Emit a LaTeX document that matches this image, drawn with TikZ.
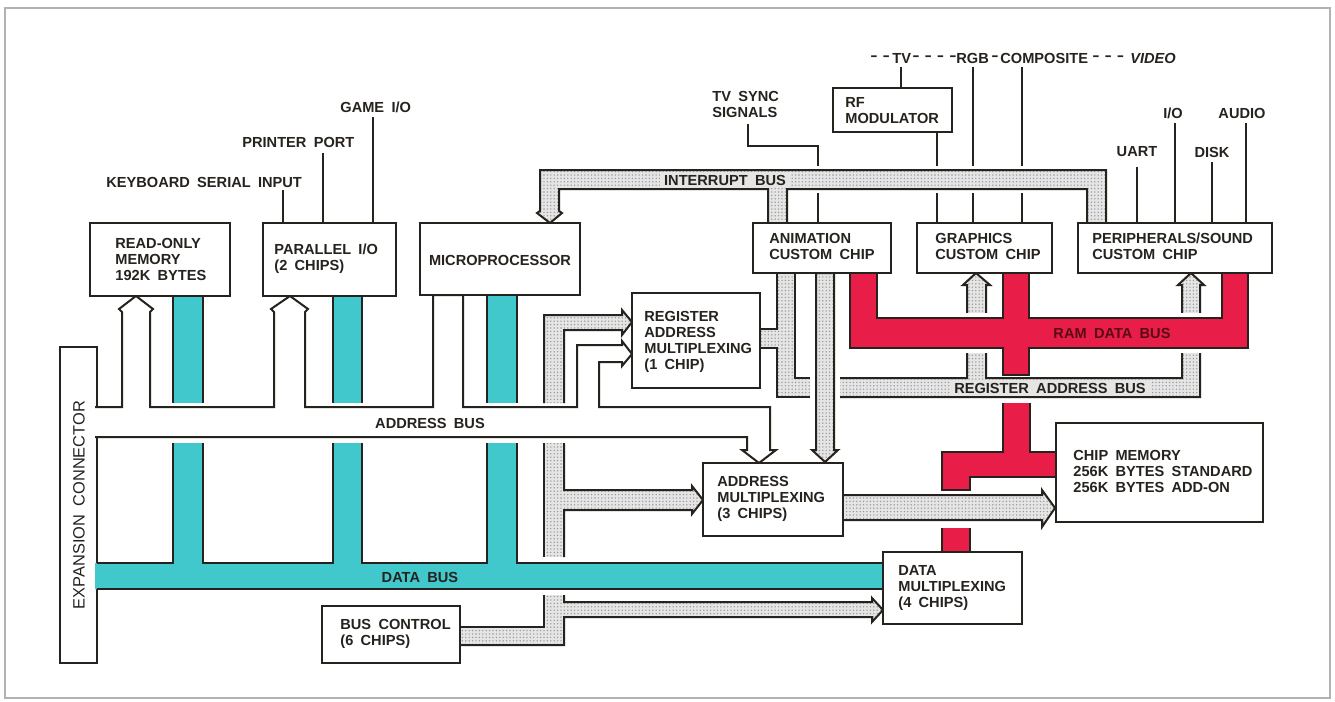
\documentclass[tikz,border=0pt]{standalone}
\usepackage{fontspec}
\setmainfont{Liberation Sans}[WordSpace=1.8]
\usetikzlibrary{patterns.meta}
\definecolor{cyanbus}{RGB}{64,200,204}
\definecolor{redbus}{RGB}{232,30,72}
\definecolor{ink}{RGB}{38,34,30}
\definecolor{maroon}{RGB}{90,10,20}
\tikzdeclarepattern{
  name=fdots,
  type=uncolored,
  bottom left={(-0.4pt,-0.4pt)},
  top right={(1.4pt,1.4pt)},
  tile size={(1.7pt,1.7pt)},
  code={\fill (0pt,0pt) circle[radius=0.38pt];}
}
\tikzset{
  ol/.style={draw=ink, line width=1pt, line join=miter},
  sig/.style={draw=ink, line width=1pt},
  box/.style={draw=ink, fill=white, line width=1.1pt, inner sep=0pt, outer sep=0pt},
  txt/.style={text=ink, font=\fontsize{7.3}{8}\selectfont\bfseries, inner sep=0pt, align=left},
  gfill/.style={preaction={fill=gray!20}, pattern=fdots, pattern color=gray!80},
  glabel/.style={txt, fill=gray!20, inner xsep=2pt, text height=5.3pt, text depth=0pt, inner ysep=1.2pt},
}
\newcommand\pbox[5]{\node[box, minimum width={(#4-#2)*0.5pt}, minimum height={(#5-#3)*0.5pt}] (#1) at ({(#2+#4)/2},{(#3+#5)/2}) {};}
\newcommand\onedash{\scalebox{1.5}[1]{-}}
\newcommand\dsh{\onedash\hspace{2.5pt}}
\begin{document}
\begin{tikzpicture}[x=0.5pt,y=-0.5pt]
\useasboundingbox (0,0) rectangle (1335,702);
\fill[white] (0,0) rectangle (1335,702);
\draw[gray!60, line width=0.7pt] (5,8) rectangle (1330,698);

% ---------- signal lines ----------
\draw[sig] (283,190)--(283,223);
\draw[sig] (323,153)--(323,223);
\draw[sig] (373,117)--(373,223);
\draw[sig] (748,124)--(748,146)--(818,146)--(818,166);
\draw[sig] (818,193)--(818,223);
\draw[sig] (901,67)--(901,88);
\draw[sig] (937,132)--(937,166);
\draw[sig] (937,193)--(937,223);
\draw[sig] (973,67)--(973,166);
\draw[sig] (973,193)--(973,223);
\draw[sig] (1022,67)--(1022,166);
\draw[sig] (1022,193)--(1022,223);
\draw[sig] (1137,167)--(1137,223);
\draw[sig] (1175,123)--(1175,223);
\draw[sig] (1212,162)--(1212,223);
\draw[sig] (1246,123)--(1246,223);

% ---------- expansion connector (under buses) ----------
\pbox{exp}{60}{347}{97}{663}

% ---------- interrupt bus ----------
\path[gfill, ol] (550,223)--(537,213)--(540,211)--(540,170)--(1106,170)--(1106,223)--(1087,223)--(1087,189)--(787,189)--(787,223)--(768,223)--(768,189)--(559,189)--(559,211)--(562,213)--cycle;

% ---------- register address bus ----------
\path[gfill, ol] (810,378)--(795,378)--(795,273)--(777,273)--(777,329)--(760,329)--(760,348)--(777,348)--(777,397)--(810,397);
\path[gfill, ol] (840,378)--(967,378)--(967,285)--(963,285)--(976,273)--(990,285)--(986,285)--(986,378)--(1182,378)--(1182,285)--(1178,285)--(1191,273)--(1204,285)--(1200,285)--(1200,397)--(840,397);
\fill[white] (961,313) rectangle (992,353);
\fill[white] (1176,313) rectangle (1206,353);
% animation -> address multiplexing
\path[gfill, ol] (816,273)--(816,450)--(812,450)--(825,462)--(838,450)--(834,450)--(834,273)--cycle;

% ---------- RAM data bus ----------
\path[fill=redbus, ol] (877,273)--(877,318)--(1003,318)--(1003,273)--(1029,273)--(1029,318)--(1222,318)--(1222,273)--(1248,273)--(1248,348)--(1029,348)--(1029,375)--(1003,375)--(1003,348)--(850,348)--(850,273);
\path[fill=redbus, ol] (1003,403)--(1003,452)--(942,452)--(942,490)--(970,490)--(970,477)--(1056,477)--(1056,452)--(1030,452)--(1030,403);
\fill[redbus] (942,528) rectangle (970,552);
\draw[ol] (942,528)--(942,552) (970,528)--(970,552);

% ---------- bus control network ----------
\path[gfill, ol] (544,403)--(544,315)--(622,315)--(622,310)--(632,322)--(622,335)--(622,330)--(564,330)--(564,403);
\path[gfill] (544,443) rectangle (564,557);
\draw[ol] (544,443)--(544,557);
\path[gfill, ol] (564,557)--(564,510)--(692,510)--(692,514)--(703,500)--(692,486)--(692,490)--(564,490)--(564,443);
\path[gfill] (544,595)--(544,627)--(460,627)--(460,645)--(564,645)--(564,617)--(872,617)--(872,622)--(883,610)--(872,598)--(872,602)--(564,602)--(564,595)--cycle;
\draw[ol] (544,595)--(544,627)--(460,627);
\draw[ol] (460,645)--(564,645)--(564,617)--(872,617)--(872,622)--(883,610)--(872,598)--(872,602)--(564,602)--(564,595);
% address multiplexing -> chip memory
\path[gfill, ol] (843,495)--(1042,495)--(1042,490)--(1055,508)--(1042,527)--(1042,520)--(843,520);

% ---------- data bus ----------
\fill[cyanbus] (173,296) rectangle (203,403);
\draw[ol] (173,296)--(173,403) (203,296)--(203,403);
\fill[cyanbus] (333,296) rectangle (362,403);
\draw[ol] (333,296)--(333,403) (362,296)--(362,403);
\fill[cyanbus] (487,295) rectangle (517,403);
\draw[ol] (487,295)--(487,403) (517,295)--(517,403);
\fill[cyanbus] (95,563)--(173,563)--(173,443)--(203,443)--(203,563)--(333,563)--(333,443)--(362,443)--(362,563)--(487,563)--(487,443)--(517,443)--(517,563)--(883,563)--(883,589)--(95,589)--cycle;
\draw[ol] (97,563)--(173,563)--(173,443);
\draw[ol] (203,443)--(203,563)--(333,563)--(333,443);
\draw[ol] (362,443)--(362,563)--(487,563)--(487,443);
\draw[ol] (517,443)--(517,563)--(883,563);
\draw[ol] (97,589)--(883,589);

% ---------- address bus ----------
\path[fill=white, ol] (95,437)--(747,437)--(747,450)--(742,450)--(759,463)--(776,450)--(770,450)--(770,407)--(599,407)--(599,362)--(622,362)--(622,366)--(632,354)--(622,341)--(622,345)--(577,345)--(577,407)--(463,407)--(463,295)--(433,295)--(433,407)--(305,407)--(305,312)--(308,309)--(290,296)--(271,309)--(274,312)--(274,407)--(150,407)--(150,312)--(153,309)--(136,296)--(119,309)--(122,312)--(122,407)--(95,407);

% ---------- boxes ----------
\pbox{rom}{90}{223}{230}{296}
\pbox{pio}{263}{223}{396}{296}
\pbox{mpu}{420}{223}{580}{295}
\pbox{anim}{753}{223}{891}{273}
\pbox{gfx}{917}{223}{1052}{273}
\pbox{per}{1078}{223}{1272}{273}
\pbox{rfm}{833}{88}{952}{132}
\pbox{ramux}{632}{293}{760}{388}
\pbox{amux}{703}{463}{843}{536}
\pbox{cmem}{1056}{423}{1263}{522}
\pbox{dmux}{883}{552}{1022}{624}
\pbox{bctl}{322}{606}{460}{663}

% ---------- texts ----------
\node[text=ink, font=\fontsize{8.2}{9}\selectfont, inner sep=0pt, rotate=90] (expt) at (79,505) {EXPANSION CONNECTOR};
\node[txt, anchor=west] (kbdt) at (106,182) {KEYBOARD SERIAL INPUT};
\node[txt, anchor=west] (prnt) at (242,142) {PRINTER PORT};
\node[txt, anchor=west] (gamet) at (340,107) {GAME I/O};
\node[txt, anchor=west] (tvst) at (712,104.5) {TV SYNC\\SIGNALS};
\node[txt, anchor=west] (rft) at (845,111) {RF\\MODULATOR};
\node[txt, anchor=west] (d1) at (870,58) {\dsh\onedash};
\node[txt, anchor=west] (tvt) at (892,58) {TV};
\node[txt, anchor=west] (d2) at (912,58) {\dsh\dsh\dsh\onedash};
\node[txt, anchor=west] (rgbt) at (956,58) {RGB};
\node[txt, anchor=west] (d3) at (991,58) {\onedash};
\node[txt, anchor=west] (compt) at (1000,58) {COMPOSITE};
\node[txt, anchor=west] (d4) at (1092,58) {\dsh\dsh\onedash};
\node[txt, anchor=west] (vidt) at (1130,58) {\textit{VIDEO}};
\node[txt] (uartt) at (1137,152) {UART};
\node[txt] (iot) at (1173,113) {I/O};
\node[txt] (diskt) at (1212,152) {DISK};
\node[txt] (audt) at (1242,113) {AUDIO};
\node[txt, anchor=west] (romt) at (115,259.5) {READ-ONLY\\MEMORY\\192K BYTES};
\node[txt, anchor=west] (piot) at (274,258.5) {PARALLEL I/O\\(2 CHIPS)};
\node[txt] (mput) at (500,260) {MICROPROCESSOR};
\node[txt, anchor=west] (animt) at (769,246) {ANIMATION\\CUSTOM CHIP};
\node[txt, anchor=west] (gfxt) at (935,246) {GRAPHICS\\CUSTOM CHIP};
\node[txt, anchor=west] (pert) at (1092,246) {PERIPHERALS/SOUND\\CUSTOM CHIP};
\node[txt, anchor=west] (ramuxt) at (644,341.5) {REGISTER\\ADDRESS\\MULTIPLEXING\\(1 CHIP)};
\node[txt, anchor=west] (amuxt) at (717,498.5) {ADDRESS\\MULTIPLEXING\\(3 CHIPS)};
\node[txt, anchor=west] (cmemt) at (1073,471) {CHIP MEMORY\\256K BYTES STANDARD\\256K BYTES ADD-ON};
\node[txt, anchor=west] (dmuxt) at (898,588) {DATA\\MULTIPLEXING\\(4 CHIPS)};
\node[txt, anchor=west] (bctlt) at (340,633.5) {BUS CONTROL\\(6 CHIPS)};
\node[txt] (abl) at (430,423) {ADDRESS BUS};
\node[txt] (dbl) at (420,577) {DATA BUS};
\node[glabel] (ibl) at (725,180) {INTERRUPT BUS};
\node[glabel] (rabl) at (1050,388) {REGISTER ADDRESS BUS};
\node[txt, text=maroon] (rdbl) at (1112,333) {RAM DATA BUS};
\end{tikzpicture}
\end{document}
